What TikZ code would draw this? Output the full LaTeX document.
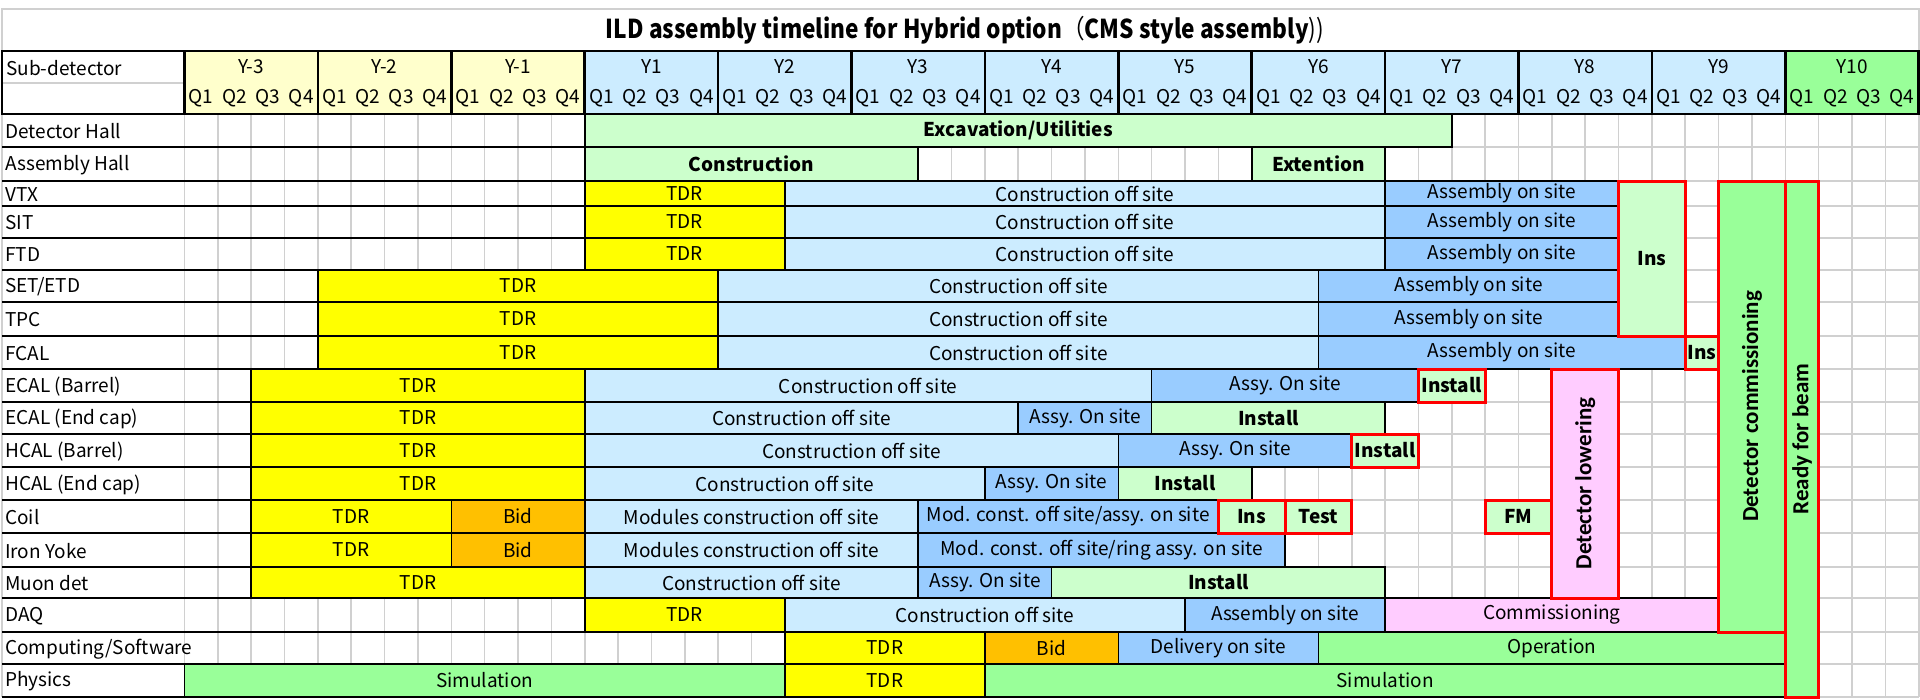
\documentclass[tikz,border=0pt]{standalone}
\usepackage{graphicx}
\usepackage{fontspec}
\setmainfont{Noto Sans CJK JP}
\newfontfamily\calfont{Carlito}
\definecolor{ctdr}{HTML}{FFFF00}
\definecolor{ccons}{HTML}{CCECFF}
\definecolor{cassy}{HTML}{99CCFF}
\definecolor{clg}{HTML}{CCFFCC}
\definecolor{cgreen}{HTML}{99FF99}
\definecolor{cbid}{HTML}{FFC000}
\definecolor{cpink}{HTML}{FFCCFF}
\definecolor{hyel}{HTML}{FFFFCC}
\definecolor{hblue}{HTML}{CCECFF}
\definecolor{cgrid}{HTML}{D0D0D0}
\definecolor{cred}{HTML}{FF0000}
\newcommand\ftreg{\fontsize{19}{19}\selectfont}
\newcommand\ftbold{\fontsize{19}{19}\selectfont\bfseries}
\def\rowY{{114,147,181,206,238,270,302,336,369,402,434,467,500,533,567,598,632,664,697}}
\tikzset{
  bar/.style={draw=black, line width=1.6pt, inner sep=0pt, outer sep=0pt, font=\ftreg, text=black},
  tdr/.style={bar, fill=ctdr},
  con/.style={bar, fill=ccons},
  asy/.style={bar, fill=cassy},
  lg/.style={bar, fill=clg, font=\ftbold},
  bid/.style={bar, fill=cbid},
  pk/.style={bar, fill=cpink},
  gn/.style={bar, fill=cgreen},
  redbx/.style={draw=cred, line width=3pt, inner sep=0pt, outer sep=0pt, font=\ftbold, text=black},
  vtxt/.style={font=\calfont\fontsize{23}{23}\selectfont\bfseries},
  gridline/.style={draw=cgrid, line width=1.6pt},
  rowline/.style={draw=black, line width=1.6pt},
  hdr/.style={draw=black, line width=2.5pt, inner sep=0pt, outer sep=0pt},
  htxt/.style={font=\ftreg, inner sep=0pt, text=black},
  lab/.style={font=\ftreg, inner sep=0pt, anchor=west, text=black, yshift=-1pt},
}
% name, row1, row2(excl), k1, k2, style, text
\newcommand\gm[7]{%
  \pgfmathsetmacro\gmXa{184.5+33.35*#4}%
  \pgfmathsetmacro\gmXb{184.5+33.35*#5}%
  \pgfmathsetmacro\gmYa{\rowY[#2]}%
  \pgfmathsetmacro\gmYb{\rowY[#3]}%
  \pgfmathsetmacro\gmW{\gmXb-\gmXa}%
  \pgfmathsetmacro\gmH{\gmYb-\gmYa}%
  \node[#6, minimum width=\gmW pt, minimum height=\gmH pt] (#1) at ({(\gmXa+\gmXb)/2},{(\gmYa+\gmYb)/2}) {#7};%
}
\newcommand\gv[7]{%
  \pgfmathsetmacro\gmXa{184.5+33.35*#4}%
  \pgfmathsetmacro\gmXb{184.5+33.35*#5}%
  \pgfmathsetmacro\gmYa{\rowY[#2]}%
  \pgfmathsetmacro\gmYb{\rowY[#3]}%
  \pgfmathsetmacro\gmW{\gmXb-\gmXa}%
  \pgfmathsetmacro\gmH{\gmYb-\gmYa}%
  \node[#6, rotate=90, minimum width=\gmH pt, minimum height=\gmW pt] (#1) at ({(\gmXa+\gmXb)/2},{(\gmYa+\gmYb)/2}) {#7};%
}
\begin{document}
\begin{tikzpicture}[x=1pt, y=-1pt]
\useasboundingbox (0,0) rectangle (1920,699);
\fill[white] (0,0) rectangle (1920,699);
% title
\draw[cgrid, line width=1.6pt] (2,9) rectangle (1918.7,51);
\node[font=\fontsize{26}{26}\selectfont, inner sep=0pt, text=black] (title) at (965,30)
  {\scalebox{0.87}[1]{\bfseries ILD assembly timeline for Hybrid option\mdseries（\bfseries CMS style assembly\mdseries))}};
% grid
\foreach \k in {0,...,52} {
  \draw[gridline] ({184.5+33.35*\k},114) -- ({184.5+33.35*\k},697);
}
\foreach \i in {0,...,18} {
  \pgfmathsetmacro\ry{\rowY[\i]}
  \draw[gridline] (184.5,\ry) -- (1918.7,\ry);
}
\draw[gridline] (2,114) -- (2,697);
\foreach \i in {0,...,18} {
  \pgfmathsetmacro\ry{\rowY[\i]}
  \draw[rowline] (2,\ry) -- (584.7,\ry);
}
% header
\draw[cgrid, line width=1.6pt] (2,82.7) -- (184.5,82.7);
\node[hdr, minimum width=182.5pt, minimum height=63pt, anchor=north west] (subhdr) at (2,51) {};
\node[lab] (subtxt) at (6,67) {Sub-detector};
\foreach \i/\lab/\col in {0/Y-3/hyel,1/Y-2/hyel,2/Y-1/hyel,3/Y1/hblue,4/Y2/hblue,5/Y3/hblue,6/Y4/hblue,7/Y5/hblue,8/Y6/hblue,9/Y7/hblue,10/Y8/hblue,11/Y9/hblue,12/Y10/cgreen} {
  \pgfmathsetmacro\hxa{184.5+133.4*\i}
  \node[hdr, fill=\col, minimum width=133.4pt, minimum height=63pt, anchor=north west] (yr\i) at (\hxa,51) {};
  \node[htxt] (yl\i) at ({\hxa+66.7},67) {\lab};
  \foreach \q in {1,...,4} {
    \node[htxt] (q\i-\q) at ({\hxa+33.35*(\q-1)+16.7},98.5) {Q\q};
  }
}
% row labels
\foreach \i/\t in {0/Detector Hall,1/Assembly Hall,2/VTX,3/SIT,4/FTD,5/SET\slash ETD,6/TPC,7/FCAL,8/ECAL (Barrel),9/ECAL (End cap),10/HCAL (Barrel),11/HCAL (End cap),12/Coil,13/Iron Yoke,14/Muon det,15/DAQ,16/Computing\slash Software,17/Physics} {
  \pgfmathsetmacro\ya{\rowY[\i]}
  \pgfmathsetmacro\yb{\rowY[\i+1]}
  \node[lab] (lab\i) at (5,{(\ya+\yb)/2}) {\t};
}
% bars
\gm{dh}{0}{1}{12}{38}{lg}{Excavation/Utilities}
\gm{ahc}{1}{2}{12}{22}{lg}{Construction}
\gm{ahe}{1}{2}{32}{36}{lg}{Extention}
\gm{vtxa}{2}{3}{12}{18}{tdr}{TDR}
\gm{vtxb}{2}{3}{18}{36}{con}{Construction off site}
\gm{vtxc}{2}{3}{36}{43}{asy}{Assembly on site}
\gm{sita}{3}{4}{12}{18}{tdr}{TDR}
\gm{sitb}{3}{4}{18}{36}{con}{Construction off site}
\gm{sitc}{3}{4}{36}{43}{asy}{Assembly on site}
\gm{ftda}{4}{5}{12}{18}{tdr}{TDR}
\gm{ftdb}{4}{5}{18}{36}{con}{Construction off site}
\gm{ftdc}{4}{5}{36}{43}{asy}{Assembly on site}
\gm{seta}{5}{6}{4}{16}{tdr}{TDR}
\gm{setb}{5}{6}{16}{34}{con}{Construction off site}
\gm{setc}{5}{6}{34}{43}{asy}{Assembly on site}
\gm{tpca}{6}{7}{4}{16}{tdr}{TDR}
\gm{tpcb}{6}{7}{16}{34}{con}{Construction off site}
\gm{tpcc}{6}{7}{34}{43}{asy}{Assembly on site}
\gm{fcala}{7}{8}{4}{16}{tdr}{TDR}
\gm{fcalb}{7}{8}{16}{34}{con}{Construction off site}
\gm{fcalc}{7}{8}{34}{45}{asy}{Assembly on site}
\gm{ebla}{8}{9}{2}{12}{tdr}{TDR}
\gm{eblb}{8}{9}{12}{29}{con}{Construction off site}
\gm{eblc}{8}{9}{29}{37}{asy}{Assy. On site}
\gm{eeca}{9}{10}{2}{12}{tdr}{TDR}
\gm{eecb}{9}{10}{12}{25}{con}{Construction off site}
\gm{eecc}{9}{10}{25}{29}{asy}{Assy. On site}
\gm{eecd}{9}{10}{29}{36}{lg}{Install}
\gm{hbla}{10}{11}{2}{12}{tdr}{TDR}
\gm{hblb}{10}{11}{12}{28}{con}{Construction off site}
\gm{hblc}{10}{11}{28}{35}{asy}{Assy. On site}
\gm{heca}{11}{12}{2}{12}{tdr}{TDR}
\gm{hecb}{11}{12}{12}{24}{con}{Construction off site}
\gm{hecc}{11}{12}{24}{28}{asy}{Assy. On site}
\gm{hecd}{11}{12}{28}{32}{lg}{Install}
\gm{coila}{12}{13}{2}{8}{tdr}{TDR}
\gm{coilb}{12}{13}{8}{12}{bid}{Bid}
\gm{coilc}{12}{13}{12}{22}{con}{Modules construction off site}
\gm{coild}{12}{13}{22}{31}{asy}{Mod. const. off site/assy. on site}
\gm{yokea}{13}{14}{2}{8}{tdr}{TDR}
\gm{yokeb}{13}{14}{8}{12}{bid}{Bid}
\gm{yokec}{13}{14}{12}{22}{con}{Modules construction off site}
\gm{yoked}{13}{14}{22}{33}{asy}{Mod. const. off site/ring assy. on site}
\gm{muona}{14}{15}{2}{12}{tdr}{TDR}
\gm{muonb}{14}{15}{12}{22}{con}{Construction off site}
\gm{muonc}{14}{15}{22}{26}{asy}{Assy. On site}
\gm{muond}{14}{15}{26}{36}{lg}{Install}
\gm{daqa}{15}{16}{12}{18}{tdr}{TDR}
\gm{daqb}{15}{16}{18}{30}{con}{Construction off site}
\gm{daqc}{15}{16}{30}{36}{asy}{Assembly on site}
\gm{daqd}{15}{16}{36}{46}{pk}{Commissioning}
\gm{compa}{16}{17}{18}{24}{tdr}{TDR}
\gm{compb}{16}{17}{24}{28}{bid}{Bid}
\gm{compc}{16}{17}{28}{34}{asy}{Delivery on site}
\gm{compd}{16}{17}{34}{48}{gn}{Operation}
\gm{phya}{17}{18}{0}{18}{gn}{Simulation}
\gm{phyb}{17}{18}{18}{24}{tdr}{TDR}
\gm{phyc}{17}{18}{24}{48}{gn}{Simulation}
% red boxes
\gm{insA}{2}{7}{43}{45}{redbx, fill=clg}{Ins}
\gm{insF}{7}{8}{45}{46}{redbx, fill=clg}{Ins}
\gm{instE}{8}{9}{37}{39}{redbx, fill=clg}{Install}
\gm{instH}{10}{11}{35}{37}{redbx, fill=clg}{Install}
\gm{insC}{12}{13}{31}{33}{redbx, fill=clg}{Ins}
\gm{testC}{12}{13}{33}{35}{redbx, fill=clg}{Test}
\gm{fmC}{12}{13}{39}{41}{redbx, fill=clg}{FM}
\gv{lower}{8}{15}{41}{43}{redbx, fill=cpink, vtxt}{Detector lowering}
\gv{dcomm}{2}{16}{46}{48}{redbx, fill=cgreen, vtxt}{Detector commissioning}
\gv{ready}{2}{18}{48}{49}{redbx, fill=cgreen, vtxt}{Ready for beam}
\end{tikzpicture}
\end{document}
